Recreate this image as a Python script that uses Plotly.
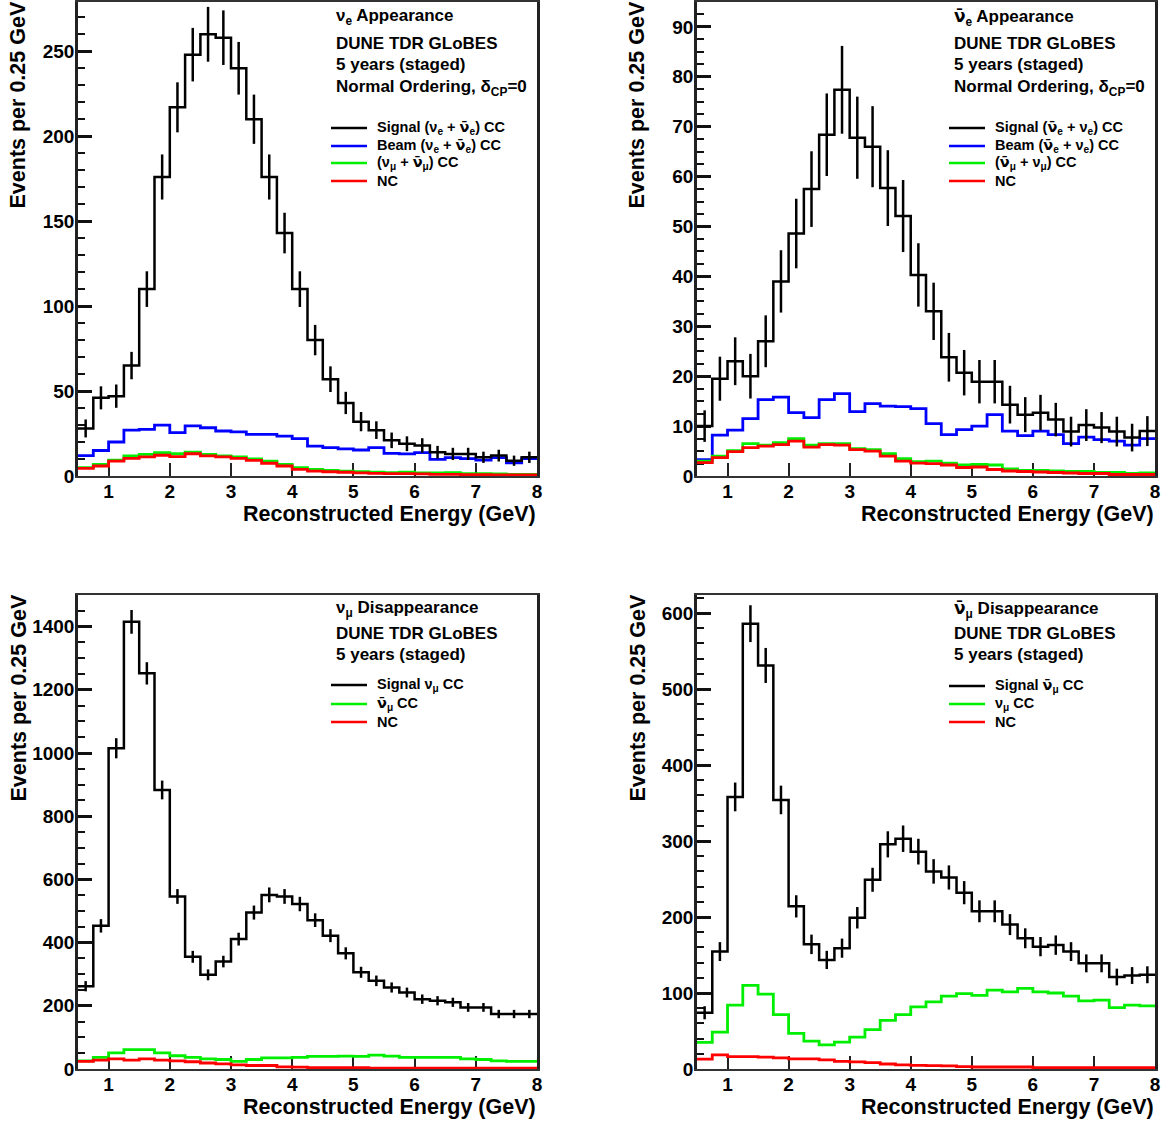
import numpy as np
import plotly.graph_objects as go

# reference picture size (pixel coordinates used for layout)
W, H = 1170, 1122
# page size (the photographed page comes out slightly compressed)
FIG_W, FIG_H = 1175, 1134

# bin edges: 0.5 .. 8.0 GeV, 0.25 GeV per bin (30 bins)
bin_lo = 0.5
bin_w = 0.25
n_bins = 30

# ---------------- nu_e appearance ----------------
nue_signal = [28, 46, 47, 65, 110, 176, 217, 248, 260, 258, 240, 210, 176, 143, 110,
              80, 57, 43, 32, 27, 21, 19, 18, 14, 13, 13, 11, 12, 9, 11]
nue_beam = [12, 15, 20, 27, 27.5, 30, 25.5, 29.5, 28.4, 26.5, 26, 24.5, 24.5, 23.5, 22,
            17.6, 16.7, 16, 15.3, 16.7, 13.3, 13, 13.7, 9.8, 10.8, 10.2, 9.4, 10.8, 7.8, 10.2]
nue_numu = [4.9, 6.9, 9.4, 11.8, 12.7, 13.7, 13.1, 14, 12.7, 11.8, 11.2, 10, 8.8, 6.9, 4.9,
            3.9, 3.3, 2.9, 2.5, 2.2, 2, 2.3, 1.8, 1.8, 2, 1.4, 1.4, 1.2, 1, 1]
nue_nc = [4.5, 5.9, 8.8, 10.4, 11.2, 12.2, 11.4, 13.1, 11.8, 11.2, 10.4, 9.2, 7.5, 5.9, 3.9,
          2.9, 2.5, 2.2, 1.8, 1.6, 1.4, 1.4, 1.2, 1, 1, 0.8, 0.8, 0.7, 0.7, 0.7]

# ---------------- nu_e-bar appearance ----------------
nuebar_signal = [10, 19.5, 23, 20, 27, 39, 48.6, 57.5, 68.4, 77.4, 67.8, 66, 57.7, 52.1, 40.3,
                 33, 23.8, 20.7, 18.9, 18.9, 14.3, 12.3, 12.7, 11.3, 8.9, 10.2, 9.7, 8.9, 7.7, 9]
nuebar_beam = [3.3, 8.2, 9.2, 11.5, 15.3, 15.8, 12.7, 11.7, 15.3, 16.5, 12.9, 14.5, 14, 13.9, 13.5,
               10.5, 8.3, 9.3, 10, 12.3, 9, 8.1, 9, 8.3, 6.5, 7.8, 7.3, 7, 6.2, 7.5]
nuebar_numu = [3, 4, 5.1, 6.5, 6.2, 6.7, 7.5, 6.2, 6.5, 6.5, 5.5, 5.3, 4.5, 3.5, 2.9,
               3, 2.6, 2.2, 2.3, 2.2, 1.4, 1.1, 1.1, 1, 0.9, 0.9, 0.7, 0.7, 0.5, 0.6]
nuebar_nc = [2.7, 3.7, 4.9, 5.7, 6, 6.3, 7, 5.8, 6.3, 6.2, 5.3, 5, 4, 3, 2.6,
             2.5, 2.2, 1.7, 1.8, 1.3, 1, 0.9, 0.8, 0.7, 0.6, 0.5, 0.5, 0.3, 0.3, 0.3]

# ---------------- nu_mu disappearance ----------------
numu_signal = [262, 453, 1015, 1415, 1252, 883, 546, 355, 298, 340, 411, 495, 551, 546, 522,
               471, 422, 366, 306, 279, 258, 242, 221, 216, 211, 195, 195, 174, 174, 174]
numu_wrong = [26, 37, 51, 61, 61, 51, 42, 37, 32, 30, 24, 30, 35, 35, 37,
              40, 40, 41, 40, 44, 41, 37, 37, 37, 37, 32, 30, 26, 24, 24]
numu_nc = [24, 28, 32, 28, 32, 28, 26, 23, 19, 16, 13, 11, 11, 7, 6,
           4, 4, 4, 4, 3, 3, 3, 2.5, 2.5, 2.5, 2.5, 2.5, 2.5, 2.5, 2.5]

# ---------------- nu_mu-bar disappearance ----------------
numubar_signal = [74, 154.5, 358, 586, 531, 354, 214, 164, 143.5, 159, 199, 249, 295.6, 303, 286,
                  260, 252, 232, 207.5, 207.5, 190, 172, 161, 163, 154.5, 139, 139, 121, 123, 124]
numubar_wrong = [35, 48.6, 84, 110, 98.5, 71.5, 47, 36.6, 31.8, 35.3, 42, 51.7, 64, 71.5, 81.7,
                 88.3, 95.8, 99.3, 97, 103.8, 101.5, 106, 101.5, 100, 96, 89.6, 90.5, 80.8, 84, 83]
numubar_nc = [13, 18.5, 16.3, 16.3, 15.5, 14.6, 13.2, 13.2, 12, 10, 9.3, 8.4, 6.6, 5.3, 4.9,
              4.4, 4, 3, 2.6, 2.6, 2.6, 2.6, 1.8, 1.8, 1.8, 1.8, 1.8, 1.8, 1.8, 1.8]

y_max = [279, 95, 1500, 623.7]
y_dtick = [50, 10, 200, 100]
y_minor = [10, 2.5, 50, 20]

BLACK, BLUE, GREEN, RED = "#000000", "#0000ff", "#00ee00", "#ff0000"
FONT = "Liberation Sans"

edges = bin_lo + bin_w * np.arange(n_bins + 1)
centers = edges[:-1] + bin_w / 2

fig = go.Figure()


def px_x(p):
    return p / W


def px_y(p):
    return 1 - p / H


# panel frames in reference pixels
frames = [
    (78, 537, 1, 475),
    (697, 1155, 1, 475),
    (78, 537, 594, 1068),
    (697, 1155, 594, 1068),
]


def step(vals, color, ax, width=2.5):
    yv = list(vals) + [vals[-1]]
    fig.add_trace(go.Scatter(x=edges, y=yv, mode="lines", line=dict(color=color, width=width, shape="hv"),
                             xaxis="x" + ax, yaxis="y" + ax, showlegend=False, hoverinfo="skip"))


def errbars(vals, ax):
    v = np.array(vals, dtype=float)
    fig.add_trace(go.Scatter(x=centers, y=v, mode="markers", marker=dict(size=1, color=BLACK),
                             error_y=dict(type="data", array=np.sqrt(v), color=BLACK, thickness=2.5, width=0),
                             xaxis="x" + ax, yaxis="y" + ax, showlegend=False, hoverinfo="skip"))


panels = [
    ("1", [(nue_beam, BLUE), (nue_numu, GREEN), (nue_nc, RED)], nue_signal),
    ("2", [(nuebar_beam, BLUE), (nuebar_numu, GREEN), (nuebar_nc, RED)], nuebar_signal),
    ("3", [(numu_wrong, GREEN), (numu_nc, RED)], numu_signal),
    ("4", [(numubar_wrong, GREEN), (numubar_nc, RED)], numubar_signal),
]

for ax, bgs, sig in panels:
    for vals, col in bgs:
        step(vals, col, ax, 2.8)
    step(sig, BLACK, ax, 2.5)
    errbars(sig, ax)

layout = dict(
    width=FIG_W, height=FIG_H, autosize=False, paper_bgcolor="white", plot_bgcolor="white",
    margin=dict(l=0, r=0, t=0, b=0), showlegend=False,
    font=dict(family=FONT, color="black"),
)

for i, (x0, x1, y0, y1) in enumerate(frames):
    k = "" if i == 0 else str(i + 1)
    n = str(i + 1)
    layout["xaxis" + k] = dict(
        domain=[px_x(x0), px_x(x1)], range=[0.5, 8.0], anchor="y" + n,
        tickvals=[1, 2, 3, 4, 5, 6, 7, 8], ticks="inside", ticklen=13, tickwidth=2, tickcolor="#222",
        showline=True, linecolor="#333", linewidth=2, mirror=True, showgrid=False, zeroline=False,
        tickfont=dict(family=FONT, size=19, color="black", weight="bold"), layer="below traces",
        ticklabelstandoff=-3,
    )
    layout["yaxis" + k] = dict(
        domain=[px_y(y1), px_y(y0)], range=[0, y_max[i]], anchor="x" + n,
        dtick=y_dtick[i], tick0=0, ticks="inside", ticklen=14, tickwidth=2.5, tickcolor="#111",
        minor=dict(dtick=y_minor[i], ticks="inside", ticklen=7, tickwidth=2, tickcolor="#111", showgrid=False),
        showline=True, linecolor="#222", linewidth=2.5, mirror=True, showgrid=False, zeroline=False,
        tickfont=dict(family=FONT, size=19, color="black", weight="bold"), layer="below traces",
        ticklabelstandoff=-3,
    )

fig.update_layout(**layout)

annos = []
shapes = []

for i, (x0, x1, y0, y1) in enumerate(frames):
    # x-axis title (right aligned at frame end)
    annos.append(dict(x=px_x(x1 + 1), y=px_y(y1 + 38), xref="paper", yref="paper", xanchor="right",
                      yanchor="middle", showarrow=False, text="<b>Reconstructed Energy (GeV)</b>",
                      font=dict(family=FONT, size=21.5, color="black")))
    # y-axis title (top aligned at frame top)
    annos.append(dict(x=px_x(x0 - 60), y=px_y(y0 - 2), xref="paper", yref="paper", xanchor="center",
                      yanchor="top", textangle=-90, showarrow=False, text="<b>Events per 0.25 GeV</b>",
                      font=dict(family=FONT, size=21.5, color="black")))


def nb(sub):
    return ("<span style='font-family:DejaVu Sans'>\u03bd\u0304</span><sub>" + sub + "</sub>")


def nu(sub):
    return "ν<sub>" + sub + "</sub>"


texts = [
    (334, [(16, nu("e") + " Appearance"), (42, "DUNE TDR GLoBES"), (64, "5 years (staged)"),
           (87, "Normal Ordering, δ<sub>CP</sub>=0")],
     [(127, "Signal (" + nu("e") + " + " + nb("e") + ") CC", BLACK),
      (145, "Beam (" + nu("e") + " + " + nb("e") + ") CC", BLUE),
      (162, "(" + nu("μ") + " + " + nb("μ") + ") CC", GREEN),
      (180, "NC", RED)]),
    (952, [(17, nb("e") + " Appearance"), (42, "DUNE TDR GLoBES"), (64, "5 years (staged)"),
           (87, "Normal Ordering, δ<sub>CP</sub>=0")],
     [(127, "Signal (" + nb("e") + " + " + nu("e") + ") CC", BLACK),
      (145, "Beam (" + nb("e") + " + " + nu("e") + ") CC", BLUE),
      (162, "(" + nb("μ") + " + " + nu("μ") + ") CC", GREEN),
      (180, "NC", RED)]),
    (334, [(608, nu("μ") + " Disappearance"), (632, "DUNE TDR GLoBES"), (653, "5 years (staged)")],
     [(684, "Signal " + nu("μ") + " CC", BLACK),
      (703, nb("μ") + " CC", GREEN),
      (721, "NC", RED)]),
    (952, [(609, nb("μ") + " Disappearance"), (632, "DUNE TDR GLoBES"), (653, "5 years (staged)")],
     [(685, "Signal " + nb("μ") + " CC", BLACK),
      (703, nu("μ") + " CC", GREEN),
      (721, "NC", RED)]),
]

for x, heads, legs in texts:
    for yy, t in heads:
        annos.append(dict(x=px_x(x), y=px_y(yy), xref="paper", yref="paper", xanchor="left", yanchor="middle",
                          showarrow=False, text="<b>" + t + "</b>", font=dict(family=FONT, size=17, color="black")))
    for yy, t, col in legs:
        shapes.append(dict(type="line", xref="paper", yref="paper", x0=px_x(x - 3), x1=px_x(x + 33),
                           y0=px_y(yy), y1=px_y(yy), line=dict(color=col, width=2.5)))
        annos.append(dict(x=px_x(x + 41), y=px_y(yy), xref="paper", yref="paper", xanchor="left",
                          yanchor="middle", showarrow=False, text="<b>" + t + "</b>",
                          font=dict(family=FONT, size=14.5, color="black")))

fig.update_layout(annotations=annos, shapes=shapes)
fig.write_html("out.html", config={"displayModeBar": False},
               post_script="document.body.style.margin='0px';")
